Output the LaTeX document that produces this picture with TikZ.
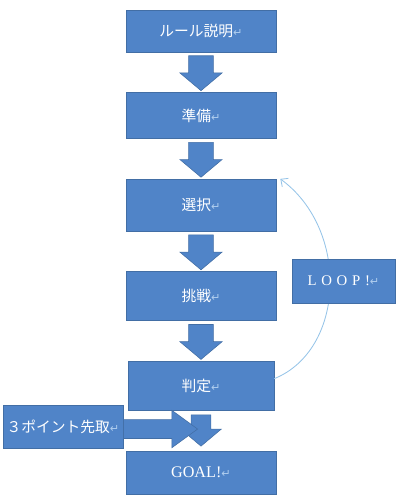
\documentclass[tikz,border=0pt]{standalone}
\usepackage{fontspec}
\setmainfont{Liberation Serif}
\newfontfamily\jpfont{Noto Sans CJK JP}
\newfontfamily\retfont{DejaVu Sans}
\newfontfamily\loopfont[LetterSpace=32]{Liberation Serif}
\definecolor{BoxBlue}{RGB}{80,132,200}
\definecolor{BoxEdge}{RGB}{66,110,165}
\definecolor{LoopLine}{RGB}{150,196,232}
\definecolor{RetMark}{RGB}{175,205,238}
\usepackage{tikz}
\usetikzlibrary{arrows.meta, shapes.arrows, positioning, calc}
\newcommand{\retmark}{{\retfont\footnotesize\textcolor{RetMark}{↵}}}
\tikzset{
  stepbox/.style={draw=BoxEdge, fill=BoxBlue, line width=0.4pt, text=white,
                  minimum width=3.75cm, inner sep=2pt,
                  font=\jpfont\fontsize{10.5}{12}\selectfont},
  blockdown/.style={single arrow, draw=BoxEdge, fill=BoxBlue, inner sep=0.3cm,
                    shape border rotate=270, minimum height=0.82cm,
                    single arrow head extend=0.22cm,
                    single arrow tip angle=100, anchor=tail},
  blockright/.style={single arrow, draw=BoxEdge, fill=BoxBlue, inner sep=0.23cm,
                     minimum height=1.85cm, single arrow tip angle=72,
                     single arrow head extend=0.23cm, anchor=tail}
}

\begin{document}
\begin{tikzpicture}[x=0.025cm, y=-0.025cm, node distance=1cm]
  \useasboundingbox (0,0) rectangle (407,500);

  % main flow
  \node[stepbox, minimum height=1.05cm] (rule) at (201,31) {ルール説明\retmark};
  \node[stepbox, minimum height=1.15cm, below=of rule] (prep) {準備\retmark};
  \node[stepbox, minimum height=1.3cm, below=of prep] (choice) {選択\retmark};
  \node[stepbox, minimum height=1.225cm, below=of choice] (try) {挑戦\retmark};
  \node[stepbox, minimum height=1.225cm, minimum width=3.65cm, below=of try] (judge) {判定\retmark};
  \node[stepbox, minimum height=1.075cm, below=of judge,
        font=\fontsize{11.5}{13}\selectfont] (goal) {GOAL!\retmark};

  \foreach \a in {rule, prep, choice, try}
    \node[blockdown] (arr-\a) at ([yshift=-0.08cm]\a.south) {};

  % loop back
  \draw[LoopLine, line width=0.6pt, -{Straight Barb[length=1.4mm, width=2.6mm]}]
    ([yshift=0.18cm]judge.east) .. controls (345,350) and (350,230)
    .. ([xshift=0.1cm]choice.north east);
  \node[stepbox, minimum width=2.575cm, minimum height=1.1cm,
        font=\loopfont\fontsize{10.5}{12}\selectfont] (loop) at (343.5,281) {LOOP!\retmark};

  % shortcut to goal
  \node[stepbox, minimum width=3cm, minimum height=1.075cm] (pts) at (63,426.5) {３ポイント先取\retmark};
  \node[blockdown, minimum height=0.78cm, inner sep=0.24cm,
        single arrow head extend=0.26cm] (arr-judge) at ([yshift=-0.1cm]judge.south) {};
  \node[blockright] (arr-pts) at ([yshift=-1.8pt]pts.east) {};
\end{tikzpicture}
\end{document}
